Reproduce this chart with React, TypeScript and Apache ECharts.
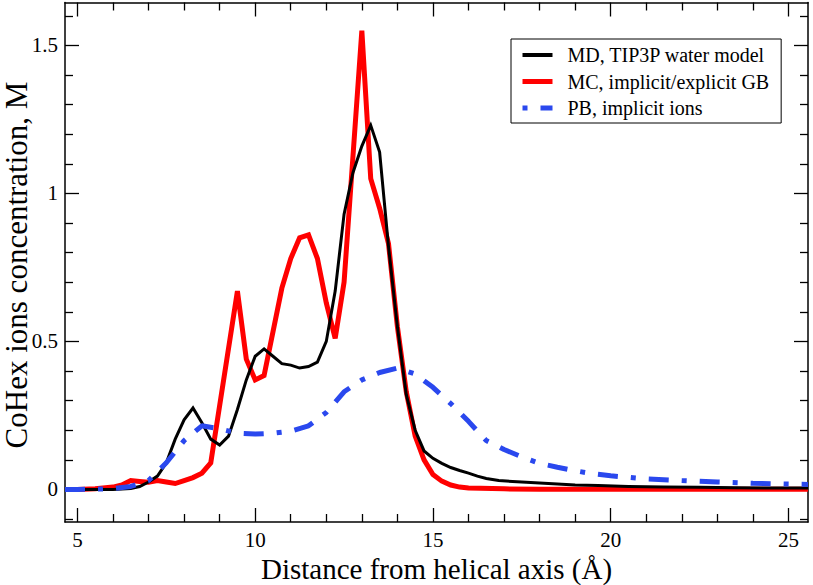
import React, { useEffect, useRef } from "react";
import * as echarts from "echarts";

// ---------- data ----------
const mdX = [4.65, 5.0, 5.5, 6.0, 6.5, 6.75, 7.0, 7.25, 7.5, 7.75, 8.0, 8.25, 8.5, 8.75, 9.0, 9.25, 9.5, 9.75, 10.0, 10.25, 10.5, 10.75, 11.0, 11.25, 11.5, 11.75, 12.0, 12.25, 12.5, 12.75, 13.0, 13.25, 13.5, 13.75, 14.0, 14.25, 14.5, 14.75, 15.0, 15.25, 15.5, 15.75, 16.0, 16.25, 16.5, 16.85, 17.5, 18.25, 19.0, 19.65, 20.5, 21.5, 22.5, 23.5, 24.5, 25.55];
const mdY = [0, 0, 0, 0, 0.003, 0.01, 0.025, 0.045, 0.09, 0.17, 0.235, 0.275, 0.225, 0.17, 0.15, 0.18, 0.27, 0.37, 0.45, 0.475, 0.45, 0.425, 0.42, 0.41, 0.415, 0.43, 0.5, 0.67, 0.93, 1.07, 1.16, 1.23, 1.14, 0.82, 0.55, 0.32, 0.2, 0.13, 0.105, 0.088, 0.074, 0.064, 0.055, 0.045, 0.037, 0.03, 0.025, 0.02, 0.015, 0.013, 0.01, 0.008, 0.007, 0.006, 0.005, 0.005];

const mcX = [4.65, 5.0, 5.5, 6.0, 6.25, 6.5, 6.75, 7.0, 7.25, 7.5, 7.75, 8.0, 8.25, 8.5, 8.75, 9.5, 9.75, 10.0, 10.25, 10.75, 11.0, 11.25, 11.5, 11.75, 12.0, 12.25, 12.5, 13.0, 13.25, 13.5, 13.75, 14.0, 14.25, 14.5, 14.75, 15.0, 15.25, 15.5, 15.75, 16.0, 17.0, 18.0, 25.55];
const mcY = [0, 0, 0.002, 0.008, 0.015, 0.03, 0.027, 0.024, 0.03, 0.025, 0.02, 0.03, 0.04, 0.055, 0.09, 0.67, 0.44, 0.37, 0.385, 0.68, 0.78, 0.85, 0.86, 0.78, 0.63, 0.51, 0.7, 1.55, 1.05, 0.95, 0.83, 0.55, 0.33, 0.18, 0.1, 0.05, 0.028, 0.015, 0.008, 0.005, 0.002, 0.001, 0.001];

const pbX = [4.65, 5.0, 5.5, 6.0, 6.5, 7.0, 7.5, 8.0, 8.5, 9.0, 9.5, 10.0, 10.5, 11.0, 11.5, 12.0, 12.5, 13.0, 13.5, 14.0, 14.5, 15.0, 15.5, 16.0, 16.5, 17.0, 17.5, 18.0, 18.5, 19.0, 19.5, 20.0, 21.0, 22.0, 23.0, 24.0, 25.0, 25.55];
const pbY = [0, 0, 0.001, 0.003, 0.01, 0.03, 0.09, 0.165, 0.215, 0.205, 0.19, 0.187, 0.19, 0.197, 0.215, 0.26, 0.33, 0.37, 0.395, 0.41, 0.39, 0.345, 0.29, 0.23, 0.165, 0.135, 0.11, 0.088, 0.075, 0.063, 0.053, 0.046, 0.036, 0.03, 0.025, 0.021, 0.018, 0.017];

const seriesNames = ["MD, TIP3P water model", "MC, implicit/explicit GB", "PB, implicit ions"];

const xMajorTicks = [5, 10, 15, 20, 25];
const xMinorTicks = [6, 7, 8, 9, 11, 12, 13, 14, 16, 17, 18, 19, 21, 22, 23, 24];
const yMajorTicks = [0, 0.5, 1, 1.5];
const yMinorTicks = [-0.1, 0.1, 0.2, 0.3, 0.4, 0.6, 0.7, 0.8, 0.9, 1.1, 1.2, 1.3, 1.4, 1.6];

const X_MIN = 4.65;
const X_MAX = 25.55;
const Y_MIN = -0.11;
const Y_MAX = 1.645;

const xTitle = "Distance from helical axis (Å)";
const yTitle = "CoHex ions concentration, M";

// ---------- styling ----------
const FONT = "'Liberation Serif', 'Times New Roman', serif";
const BLUE = "#2a48ee";
const BLUE_DASH = [20, 13, 5, 13];

const zip = (xs: number[], ys: number[]) => xs.map((x, i) => [x, ys[i]]);

function xAxisDef(position: "top" | "bottom", major: boolean, withLabels: boolean): any {
  return {
    type: "value",
    position,
    min: X_MIN,
    max: X_MAX,
    axisLine: { show: major, onZero: false, lineStyle: { color: "#000", width: 1.5 } },
    axisTick: {
      show: true,
      inside: true,
      length: major ? 14 : 8,
      customValues: major ? xMajorTicks : xMinorTicks,
      lineStyle: { color: "#000", width: 1.3 },
    },
    axisLabel: withLabels
      ? { show: true, customValues: xMajorTicks, fontFamily: FONT, fontSize: 21, color: "#000", margin: 7 }
      : { show: false },
    splitLine: { show: false },
    ...(withLabels
      ? {
          name: xTitle,
          nameLocation: "middle",
          nameGap: 30,
          nameTextStyle: { fontFamily: FONT, fontSize: 29, color: "#000" },
        }
      : {}),
  };
}

function yAxisDef(position: "left" | "right", major: boolean, withLabels: boolean): any {
  return {
    type: "value",
    position,
    min: Y_MIN,
    max: Y_MAX,
    axisLine: { show: major, onZero: false, lineStyle: { color: "#000", width: 1.5 } },
    axisTick: {
      show: true,
      inside: true,
      length: major ? 14 : 8,
      customValues: major ? yMajorTicks : yMinorTicks,
      lineStyle: { color: "#000", width: 1.3 },
    },
    axisLabel: withLabels
      ? { show: true, customValues: yMajorTicks, fontFamily: FONT, fontSize: 21, color: "#000", margin: 7 }
      : { show: false },
    splitLine: { show: false },
  };
}

export default function App() {
  const ref = useRef<HTMLDivElement>(null);

  useEffect(() => {
    document.body.style.margin = "0";
    const chart = echarts.init(ref.current!, null, { renderer: "svg" });
    const option: any = {
      animation: false,
      backgroundColor: "#fff",
      grid: { left: 65, right: 5, top: 2.5, bottom: 63, containLabel: false, outerBoundsMode: "none" },
      xAxis: [
        xAxisDef("bottom", true, true),
        xAxisDef("bottom", false, false),
        xAxisDef("top", true, false),
        xAxisDef("top", false, false),
      ],
      yAxis: [
        yAxisDef("left", true, true),
        yAxisDef("left", false, false),
        yAxisDef("right", true, false),
        yAxisDef("right", false, false),
      ],
      graphic: [
        {
          type: "text",
          x: 16,
          y: 265,
          rotation: Math.PI / 2,
          style: {
            text: yTitle,
            fontFamily: FONT,
            fontSize: 31,
            fill: "#000",
            textAlign: "center",
            textVerticalAlign: "middle",
          },
        },
      ],
      legend: {
        orient: "vertical",
        left: 511,
        top: 39,
        padding: [6, 12, 5, 9],
        borderColor: "#000",
        borderWidth: 1,
        backgroundColor: "#fff",
        itemWidth: 30,
        itemHeight: 18,
        itemGap: 6.5,
        selectedMode: false,
        itemStyle: { opacity: 0, color: "rgba(0,0,0,0)", borderWidth: 0 },
        textStyle: { fontFamily: FONT, fontSize: 20, color: "#000", padding: [0, 0, 0, 10], lineHeight: 18 },
        data: [
          { name: seriesNames[0], lineStyle: { width: 4, color: "#000" } },
          { name: seriesNames[1], lineStyle: { width: 5, color: "#ff0000" } },
          { name: seriesNames[2], lineStyle: { type: [5, 13, 12, 0], width: 5, color: BLUE } },
        ],
      },
      series: [
        {
          name: seriesNames[0],
          type: "line",
          data: zip(mdX, mdY),
          symbol: "none",
          xAxisIndex: 0,
          yAxisIndex: 0,
          lineStyle: { color: "#000", width: 3, join: "miter" },
          itemStyle: { color: "#000" },
          z: 3,
        },
        {
          name: seriesNames[1],
          type: "line",
          data: zip(mcX, mcY),
          symbol: "none",
          xAxisIndex: 0,
          yAxisIndex: 0,
          lineStyle: { color: "#ff0000", width: 5, join: "miter", miterLimit: 10 },
          itemStyle: { color: "#ff0000" },
          z: 2,
        },
        {
          name: seriesNames[2],
          type: "line",
          data: zip(pbX, pbY),
          symbol: "none",
          xAxisIndex: 0,
          yAxisIndex: 0,
          lineStyle: { color: BLUE, width: 5, type: BLUE_DASH },
          itemStyle: { color: BLUE },
          z: 4,
        },
      ],
    };
    chart.setOption(option);
    return () => chart.dispose();
  }, []);

  return <div ref={ref} style={{ width: 813, height: 585 }} />;
}
